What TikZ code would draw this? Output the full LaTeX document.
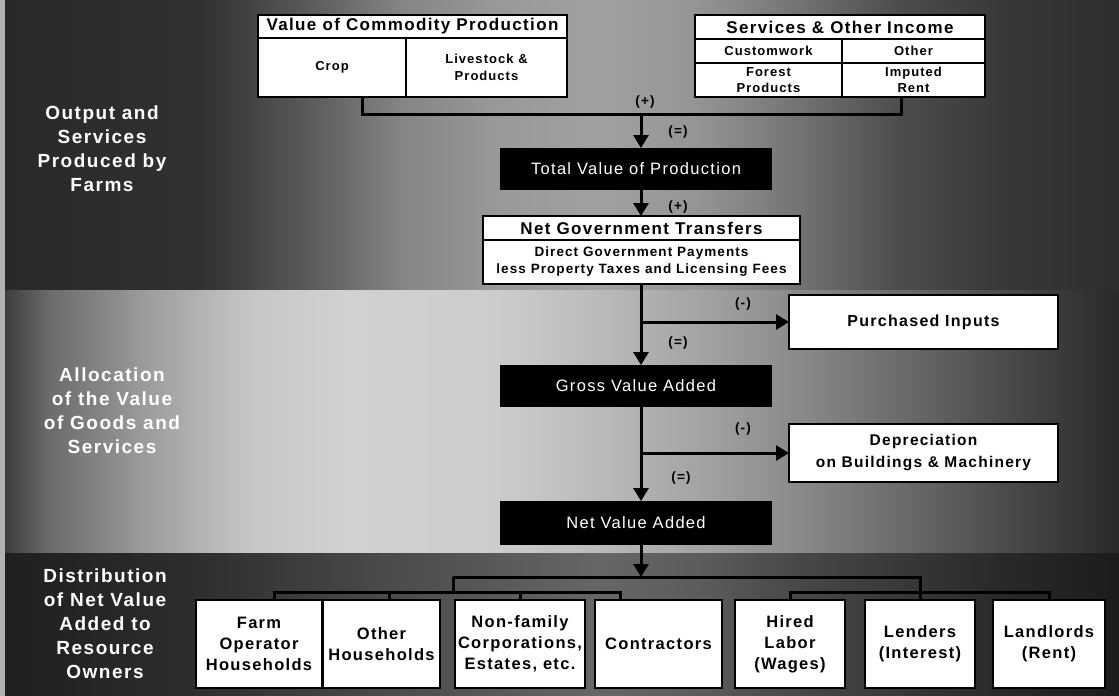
\documentclass[tikz,border=0pt]{standalone}
\usepackage{fontspec}
\setmainfont{Liberation Sans}[LetterSpace=8]
\usetikzlibrary{arrows.meta,calc}

\pgfdeclarehorizontalshading{topband}{100bp}{rgb(0bp)=(.16,.16,.16); rgb(25bp)=(.16,.16,.16); rgb(33.9bp)=(.19,.19,.19); rgb(38.4bp)=(.34,.34,.34); rgb(42.9bp)=(.52,.52,.52); rgb(47.3bp)=(.60,.60,.60); rgb(51.8bp)=(.63,.63,.63); rgb(56.3bp)=(.58,.58,.58); rgb(60.7bp)=(.45,.45,.45); rgb(65.2bp)=(.30,.30,.30); rgb(69.7bp)=(.22,.22,.22); rgb(75bp)=(.18,.18,.18); rgb(100bp)=(.18,.18,.18)}
\pgfdeclarehorizontalshading{midband}{100bp}{rgb(0bp)=(.22,.22,.22); rgb(25bp)=(.22,.22,.22); rgb(27.2bp)=(.42,.42,.42); rgb(31.7bp)=(.62,.62,.62); rgb(36.2bp)=(.78,.78,.78); rgb(40.6bp)=(.82,.82,.82); rgb(47.3bp)=(.80,.80,.80); rgb(51.8bp)=(.73,.73,.73); rgb(56.3bp)=(.64,.64,.64); rgb(60.7bp)=(.54,.54,.54); rgb(65.2bp)=(.42,.42,.42); rgb(69.7bp)=(.30,.30,.30); rgb(75bp)=(.16,.16,.16); rgb(100bp)=(.16,.16,.16)}
\pgfdeclarehorizontalshading{lowband}{100bp}{rgb(0bp)=(.12,.12,.12); rgb(25bp)=(.12,.12,.12); rgb(33.9bp)=(.18,.18,.18); rgb(42.9bp)=(.30,.30,.30); rgb(51.8bp)=(.40,.40,.40); rgb(56.3bp)=(.36,.36,.36); rgb(60.7bp)=(.28,.28,.28); rgb(69.7bp)=(.16,.16,.16); rgb(75bp)=(.11,.11,.11); rgb(100bp)=(.11,.11,.11)}

\tikzset{
  wbox/.style={draw=black, line width=1.6pt, fill=white, text=black, inner sep=0pt, outer sep=0pt, align=center},
  bbox/.style={fill=black, text=white, inner sep=0pt, outer sep=0pt, minimum width=272pt, minimum height=42pt, font=\fontsize{16.5}{19}\selectfont},
  title/.style={font=\fontsize{17}{20}\selectfont\bfseries},
  small/.style={font=\fontsize{13}{16.5}\selectfont\bfseries},
  owner/.style={wbox, minimum height=88pt, font=\fontsize{16.5}{21}\selectfont\bfseries},
  sign/.style={text=black, font=\fontsize{13.5}{15}\selectfont\bfseries},
  side/.style={text=white, align=center, font=\fontsize{19}{24}\selectfont\bfseries},
  link/.style={line width=3pt},
  arr/.style={link, -{Triangle[width=15pt,length=13pt]}}
}

\begin{document}
\begin{tikzpicture}[x=1pt,y=-1pt]
  \useasboundingbox (0,0) rectangle (1119,696);
  \shade[shading=topband] (0,0) rectangle (1119,290);
  \shade[shading=midband] (0,290) rectangle (1119,553);
  \shade[shading=lowband] (0,553) rectangle (1119,696);
  \fill[gray!60] (0,0) rectangle (5,696);

  \node[side] (lab1) at (102,149) {Output and\\Services\\Produced by\\Farms};
  \node[side] (lab2) at (112,411) {Allocation\\of the Value\\of Goods and\\Services};
  \node[side] (lab3) at (105,624) {Distribution\\of Net Value\\Added to\\Resource\\Owners};

  % output and services
  \node[wbox, title, minimum width=309pt, minimum height=23pt] (valtitle) at (412.5,26.5) {Value of Commodity Production};
  \node[wbox, small, minimum width=148pt, minimum height=59pt] (crop) at (332,67.5) {Crop};
  \node[wbox, small, minimum width=161pt, minimum height=59pt] (live) at (486.5,67.5) {Livestock \&\\Products};
  \node[wbox, title, minimum width=290pt, minimum height=24pt] (svctitle) at (840,27) {Services \& Other Income};
  \node[wbox, small, minimum width=147pt, minimum height=24pt] (custom) at (768.5,51) {Customwork};
  \node[wbox, small, minimum width=143pt, minimum height=24pt] (other) at (913.5,51) {Other};
  \node[wbox, small, minimum width=147pt, minimum height=34pt] (forest) at (768.5,80) {Forest\\Products};
  \node[wbox, small, minimum width=143pt, minimum height=34pt] (rent) at (913.5,80) {Imputed\\Rent};

  \node[bbox] (tvp) at (636,169) {Total Value of Production};
  \node[wbox, title, minimum width=317pt, minimum height=24pt] (ngttitle) at (641.5,228) {Net Government Transfers};
  \node[wbox, font=\fontsize{13.5}{17}\selectfont\bfseries, minimum width=317pt, minimum height=44pt] (ngtbody) at (641.5,262) {Direct Government Payments\\less Property Taxes and Licensing Fees};

  % allocation
  \node[wbox, font=\fontsize{16}{20}\selectfont\bfseries, minimum width=269pt, minimum height=54pt] (purch) at (923.5,322) {Purchased Inputs};
  \node[bbox] (gva) at (636,386) {Gross Value Added};
  \node[wbox, font=\fontsize{15.5}{22}\selectfont\bfseries, minimum width=269pt, minimum height=58pt] (depr) at (923.5,453) {Depreciation\\on Buildings \& Machinery};
  \node[bbox, minimum height=44pt] (nva) at (636,523) {Net Value Added};

  % distribution
  \node[owner, minimum width=126pt] (farm) at (259,644) {Farm\\Operator\\Households};
  \node[owner, minimum width=117pt] (othh) at (381.5,644) {Other\\Households};
  \node[owner, minimum width=130pt] (nonf) at (520,644) {Non-family\\Corporations,\\Estates, etc.};
  \node[owner, minimum width=127pt] (contr) at (658.5,644) {Contractors};
  \node[owner, minimum width=110pt] (hired) at (790,644) {Hired\\Labor\\(Wages)};
  \node[owner, minimum width=110pt] (lend) at (920,644) {Lenders\\(Interest)};
  \node[owner, minimum width=112pt] (landl) at (1049,644) {Landlords\\(Rent)};

  \coordinate (join) at (641,114);
  \draw[link] ([xshift=30pt]crop.south) |- (join) -| ([xshift=-12pt]rent.south);
  \draw[arr] (join) -- (join |- tvp.north);
  \draw[arr] (tvp.south -| join) -- (join |- ngttitle.north);
  \draw[arr] (ngtbody.south -| join) -- (join |- gva.north);
  \coordinate (cut1) at (join |- purch.west);
  \draw[arr] (cut1) -- (purch.west);
  \draw[arr] (gva.south -| join) -- (join |- nva.north);
  \coordinate (cut2) at (join |- depr.west);
  \draw[arr] (cut2) -- (depr.west);

  \coordinate (hub) at (641,577);
  \coordinate (lhub) at (453,577);
  \coordinate (rhub) at (920,577);
  \draw[arr] (nva.south -| hub) -- (hub);
  \draw[link] (lhub) -- (rhub) -- (lend.north);
  \draw[link] (lhub) -- ++(0,15);
  \draw[link] ([xshift=15pt]farm.north) -- ++(0,-8) -| ([xshift=-38.5pt]contr.north);
  \draw[link] ([xshift=7.5pt]othh.north) -- ++(0,-8);
  \draw[link] (nonf.north) -- ++(0,-8);
  \draw[link] (hired.north) -- ++(0,-8) -| (landl.north);

  \node[sign] (s1) at (645,102) {(+)};
  \node[sign] (s2) at (678,132) {(=)};
  \node[sign] (s3) at (678,207) {(+)};
  \node[sign] (s4) at (743,304) {(-)};
  \node[sign] (s5) at (678,343) {(=)};
  \node[sign] (s6) at (743,429) {(-)};
  \node[sign] (s7) at (681,478) {(=)};
\end{tikzpicture}
\end{document}
